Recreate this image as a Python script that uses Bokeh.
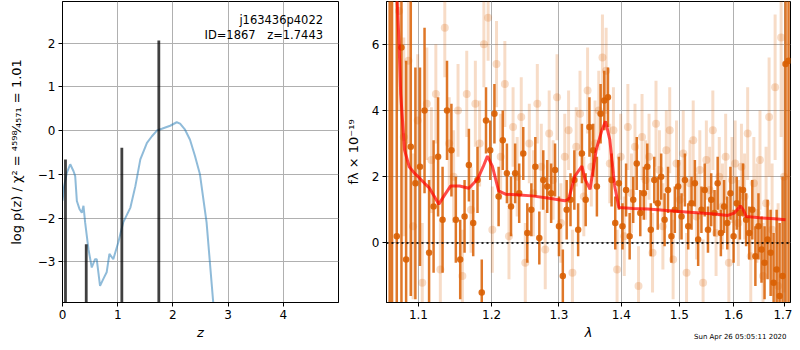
from bokeh.plotting import figure
from bokeh.layouts import row
from bokeh.models import Span, Label, Title, FixedTicker, PrintfTickFormatter, ColumnDataSource
from bokeh.embed import file_html
from bokeh.resources import INLINE

# ---------------- left panel data: p(z) ----------------
z_curve = [0.0, 0.03, 0.08, 0.14, 0.20, 0.23, 0.26, 0.31, 0.35, 0.38, 0.41, 0.47, 0.53, 0.59,
           0.62, 0.68, 0.74, 0.80, 0.85, 0.92, 1.01, 1.10, 1.23, 1.32, 1.41, 1.53, 1.62, 1.71,
           1.80, 1.95, 2.07, 2.13, 2.22, 2.31, 2.40, 2.49, 2.61, 2.73, 2.80]
logp_curve = [-1.6, -1.27, -0.96, -0.77, -0.93, -1.04, -1.61, -1.80, -1.88, -1.72, -2.1, -2.71,
              -3.13, -2.94, -2.94, -3.55, -3.39, -3.24, -2.82, -2.94, -2.56, -2.10, -1.76, -1.27,
              -0.66, -0.28, -0.13, 0.0, 0.04, 0.11, 0.19, 0.16, 0.02, -0.21, -0.58, -1.0, -2.1,
              -3.92, -5.0]
z_peaks = [0.054, 0.43, 1.075, 1.745]
logp_peaks = [-0.66, -2.60, -0.39, 2.06]
z_ticks = [0, 1, 2, 3, 4]
logp_ticks = [-3, -2, -1, 0, 1, 2]

# ---------------- right panel data: spectrum ----------------
dark_lam = [1.063, 1.066, 1.072, 1.078, 1.084, 1.090, 1.096, 1.102, 1.108, 1.114,
            1.120, 1.126, 1.132, 1.138, 1.144, 1.150, 1.156, 1.162, 1.168, 1.174,
            1.180, 1.186, 1.192, 1.198, 1.204, 1.210, 1.216, 1.222, 1.228, 1.234,
            1.240, 1.246, 1.252, 1.258, 1.264, 1.270, 1.276, 1.282, 1.288, 1.294,
            1.300, 1.306, 1.312, 1.318, 1.324, 1.330, 1.336, 1.342, 1.348, 1.354,
            1.360, 1.366, 1.372, 1.378, 1.384, 1.390, 1.396, 1.402, 1.408, 1.414,
            1.420, 1.426, 1.432, 1.438, 1.444, 1.450, 1.456, 1.462, 1.468, 1.474,
            1.480, 1.486, 1.492, 1.498, 1.504, 1.510, 1.516, 1.522, 1.528, 1.534,
            1.540, 1.546, 1.552, 1.558, 1.564, 1.570, 1.576, 1.582, 1.588, 1.594,
            1.600, 1.606, 1.612, 1.618, 1.624, 1.630, 1.636, 1.642, 1.648, 1.654,
            1.660, 1.666, 1.672, 1.678, 1.684, 1.690, 1.696, 1.702, 1.708]
dark_flux = [8.0, -2.5, 0.2, 5.9, -0.5, 2.9, 1.8, 2.3, 4.0, -0.3,
             1.1, 2.6, 0.7, 4.0, 2.8, 0.7, -0.5, 0.8, 2.35, 0.6,
             1.9, -1.5, 3.7, 2.8, 3.9, 1.4, 3.1, 2.1, 1.1, 2.1,
             1.5, 2.7, 0.3, 1.0, 2.3, 0.15, 1.9, 1.7, 1.5, 2.2,
             0.5, -1.0, 1.0, 1.3, 1.9, 0.4, 2.7, 1.3, 3.5, 2.8,
             1.7, 3.9, 4.3, 4.4, 1.9, 0.6, 1.8, 0.5, 1.6, 0.2,
             1.3, 2.4, 0.9, 1.5, 2.3, 0.4, 1.9, 1.2, 2.0, 0.7,
             1.6, 0.2, 1.0, 1.7, 0.8, 1.9, 0.5, 1.2, 1.8, 0.1,
             1.0, 1.6, 0.4, 1.3, 0.9, 1.8, 0.3, 1.1, 0.6, 1.5,
             0.2, 1.2, 0.9, 1.6, 0.7, 0.3, 1.0, -0.4, 0.5, -0.2,
             -0.6, 0.1, -0.3, -1.2, -0.8, -1.6, -1.0, 5.4, 5.5]
dark_err = [12, 12, 9, 8, 6, 4.5, 3.5, 3.0, 2.5, 2.2,
            2.0, 1.8, 1.6, 1.5, 1.4, 1.3, 1.2, 1.1, 1.1, 1.0,
            1.0, 1.0, 1.0, 0.9, 0.9, 0.9, 0.9, 0.9, 0.9, 0.9,
            0.9, 0.8, 0.9, 0.8, 0.9, 0.8, 0.9, 0.8, 0.9, 0.8,
            0.9, 0.8, 0.9, 0.8, 0.9, 0.8, 0.9, 0.8, 0.9, 0.8,
            0.9, 0.9, 0.9, 0.9, 0.8, 0.8, 0.8, 0.7, 0.8, 0.7,
            0.7, 0.8, 0.7, 0.8, 0.7, 0.8, 0.7, 0.8, 0.7, 0.8,
            0.7, 0.8, 0.7, 0.8, 0.7, 0.8, 0.7, 0.8, 0.7, 0.8,
            0.7, 0.8, 0.7, 0.8, 0.7, 0.8, 0.7, 0.8, 0.8, 0.8,
            0.8, 0.8, 0.8, 0.8, 0.8, 0.8, 0.9, 0.9, 1.0, 1.0,
            1.1, 1.2, 1.3, 1.5, 1.8, 2.2, 3.0, 10, 10]

light_lam = [1.075, 1.081, 1.087, 1.093, 1.099, 1.105, 1.111, 1.117, 1.123, 1.129,
             1.135, 1.141, 1.147, 1.153, 1.159, 1.165, 1.171, 1.177, 1.183, 1.189,
             1.195, 1.201, 1.207, 1.213, 1.219, 1.225, 1.231, 1.237, 1.243, 1.249,
             1.255, 1.261, 1.267, 1.273, 1.279, 1.285, 1.291, 1.297, 1.303, 1.309,
             1.315, 1.321, 1.327, 1.333, 1.339, 1.345, 1.351, 1.357, 1.363, 1.369,
             1.375, 1.381, 1.387, 1.393, 1.399, 1.405, 1.411, 1.417, 1.423, 1.429,
             1.435, 1.441, 1.447, 1.453, 1.459, 1.465, 1.471, 1.477, 1.483, 1.489,
             1.495, 1.501, 1.507, 1.513, 1.519, 1.525, 1.531, 1.537, 1.543, 1.549,
             1.555, 1.561, 1.567, 1.573, 1.579, 1.585, 1.591, 1.597, 1.603, 1.609,
             1.615, 1.621, 1.627, 1.633, 1.639, 1.645, 1.651, 1.657, 1.663, 1.669,
             1.675, 1.681, 1.687, 1.693, 1.699]
light_flux = [7.0, 3.2, 5.5, 0.5, 3.7, -1.2, 4.2, 2.5, 4.5, -0.8,
              6.5, 3.0, 2.0, 4.0, -1.0, 4.5, 1.0, 4.2, 3.0, 6.0,
              6.8, 0.4, 5.4, 2.6, 4.8, 0.2, 3.5, 2.0, 3.8, -0.6,
              3.0, 1.5, 4.2, 2.3, -0.2, 3.3, 1.9, 4.4, 0.6, 2.6,
              3.4, -0.9, 2.9, 3.9, 1.4, 4.6, 2.3, 3.0, 4.0, 5.6,
              5.2, 2.4, 3.4, -0.8, 2.6, 0.2, 3.5, 1.5, 2.9, -1.3,
              3.2, 1.9, 2.6, -0.3, 3.6, 2.2, 0.5, 2.8, 3.4, -0.5,
              2.4, 1.3, 2.7, -0.9, 1.8, 3.1, 0.8, 2.2, -1.2, 2.5,
              1.6, 3.4, 0.3, 2.0, 1.1, 2.6, -0.6, 1.9, 2.4, 0.6,
              2.3, 1.4, 3.3, -0.4, 1.8, 0.9, 2.5, -1.0, 1.2, 3.8,
              0.4, 4.7, -1.3, 6.2, 2.0]
light_err = [3.0, 3.0, 2.5, 2.2, 2.0, 1.8, 1.7, 1.6, 1.5, 1.5,
             1.5, 1.4, 1.4, 1.4, 1.4, 1.3, 1.3, 1.3, 1.3, 1.3,
             1.3, 1.3, 1.3, 1.3, 1.3, 1.3, 1.2, 1.2, 1.2, 1.2,
             1.2, 1.3, 1.2, 1.3, 1.2, 1.3, 1.2, 1.3, 1.2, 1.3,
             1.2, 1.3, 1.2, 1.3, 1.2, 1.3, 1.2, 1.3, 1.2, 1.3,
             1.3, 1.2, 1.3, 1.2, 1.3, 1.2, 1.3, 1.2, 1.3, 1.2,
             1.3, 1.2, 1.3, 1.2, 1.3, 1.2, 1.3, 1.2, 1.3, 1.2,
             1.3, 1.2, 1.3, 1.2, 1.3, 1.2, 1.3, 1.2, 1.3, 1.2,
             1.3, 1.2, 1.3, 1.2, 1.3, 1.3, 1.3, 1.3, 1.3, 1.3,
             1.3, 1.3, 1.4, 1.4, 1.4, 1.5, 1.5, 1.6, 1.7, 1.8,
             2.0, 2.2, 2.5, 3.0, 3.5]

model_lam = [1.072, 1.075, 1.077, 1.082, 1.088, 1.095, 1.101, 1.108, 1.114, 1.121, 1.127,
             1.134, 1.143, 1.155, 1.168, 1.180, 1.188, 1.194, 1.201, 1.210, 1.220, 1.240,
             1.259, 1.285, 1.309, 1.315, 1.325, 1.336, 1.341, 1.349, 1.359, 1.368, 1.374,
             1.381, 1.389, 1.396, 1.420, 1.445, 1.500, 1.564, 1.589, 1.601, 1.607, 1.613,
             1.619, 1.624, 1.650, 1.680, 1.702]
model_flux = [7.6, 6.0, 4.5, 2.8, 2.3, 2.1, 1.97, 1.8, 1.67, 1.4, 1.17,
              1.42, 1.72, 1.72, 1.65, 1.92, 2.3, 2.62, 2.32, 1.57, 1.47, 1.45,
              1.42, 1.35, 1.27, 1.32, 2.02, 2.32, 1.92, 1.62, 2.82, 3.4, 3.67,
              3.12, 1.72, 1.07, 1.04, 1.02, 0.95, 0.87, 0.83, 0.9, 1.0, 1.12,
              0.98, 0.80, 0.76, 0.73, 0.70]
lam_ticks = [1.1, 1.2, 1.3, 1.4, 1.5, 1.6, 1.7]
flux_ticks = [0, 2, 4, 6]

FONT = "DejaVu Sans"
ORANGE = "#d95f02"
BOTTOM = 38


def style(p):
    p.outline_line_color = "black"
    p.outline_line_width = 1
    p.outline_line_alpha = 1
    p.grid.grid_line_color = "#b0b0b0"
    p.grid.grid_line_width = 1
    p.background_fill_color = "white"
    p.border_fill_color = "white"
    for ax in p.axis:
        ax.major_tick_in = 0
        ax.major_tick_out = 4
        ax.minor_tick_line_color = None
        ax.axis_line_color = "black"
        ax.major_tick_line_color = "black"
        ax.major_label_text_font = FONT
        ax.major_label_text_font_size = "12px"
        ax.major_label_text_color = "black"
        ax.major_label_standoff = 3
        ax.axis_label_text_font = FONT
        ax.axis_label_text_font_size = "13px"
        ax.axis_label_text_color = "black"
        ax.axis_label_standoff = 3


# ---------------- left figure ----------------
p1 = figure(width=342, height=342, x_range=(0, 5), y_range=(-3.93, 2.95),
            output_backend="svg", toolbar_location=None,
            min_border_left=62, min_border_right=4, min_border_top=1, min_border_bottom=BOTTOM)
style(p1)
p1.xaxis.ticker = FixedTicker(ticks=z_ticks)
p1.yaxis.ticker = FixedTicker(ticks=logp_ticks)
p1.xaxis.axis_label = "z"
p1.xaxis.axis_label_text_font_style = "italic"
p1.yaxis.axis_label = "log p(z) / χ² = ⁴⁵⁹⁸⁄₄₅₇₁ = 1.01"
p1.yaxis.axis_label_text_font_style = "normal"
p1.yaxis.axis_label_standoff = 11

p1.line(z_curve, logp_curve, line_color="#1f77b4", line_alpha=0.5, line_width=2)
pk_src = ColumnDataSource(dict(x=z_peaks, top=logp_peaks, bottom=[-10] * len(z_peaks)))
p1.segment(x0="x", y0="bottom", x1="x", y1="top", source=pk_src,
           line_color="black", line_alpha=0.75, line_width=2.8)

p1.add_layout(Label(x=4.72, y=2.52, text="j163436p4022", text_align="right",
                    text_baseline="middle", text_font=FONT, text_font_size="11.5px",
                    text_color="black"))
p1.add_layout(Label(x=4.72, y=2.19, text="ID=1867\u2002\u2002z=1.7443", text_align="right",
                    text_baseline="middle", text_font=FONT, text_font_size="11.5px",
                    text_color="black"))

# ---------------- right figure ----------------
p2 = figure(width=450, height=342, x_axis_type="log", x_range=(1.059, 1.712),
            y_range=(-1.8, 7.29), output_backend="svg", toolbar_location=None,
            min_border_left=42, min_border_right=2, min_border_top=1, min_border_bottom=BOTTOM)
style(p2)
p2.xaxis.ticker = FixedTicker(ticks=lam_ticks)
p2.xaxis.formatter = PrintfTickFormatter(format="%.1f")
p2.yaxis.ticker = FixedTicker(ticks=flux_ticks)
p2.xaxis.axis_label = "λ"
p2.xaxis.axis_label_text_font_style = "italic"
p2.yaxis.axis_label = "fλ × 10⁻¹⁹"
p2.yaxis.axis_label_text_font_style = "normal"
p2.yaxis.axis_label_standoff = 8

light_src = ColumnDataSource(dict(x=light_lam, y=light_flux,
                                  lo=[f - e for f, e in zip(light_flux, light_err)],
                                  hi=[f + e for f, e in zip(light_flux, light_err)]))
dark_src = ColumnDataSource(dict(x=dark_lam, y=dark_flux,
                                 lo=[f - e for f, e in zip(dark_flux, dark_err)],
                                 hi=[f + e for f, e in zip(dark_flux, dark_err)]))

p2.segment(x0="x", y0="lo", x1="x", y1="hi", source=light_src,
           line_color=ORANGE, line_alpha=0.22, line_width=3)
p2.scatter(x="x", y="y", source=light_src, size=8, fill_color=ORANGE, fill_alpha=0.22,
           line_color=None)
p2.segment(x0="x", y0="lo", x1="x", y1="hi", source=dark_src,
           line_color=ORANGE, line_alpha=0.85, line_width=2.5)
p2.scatter(x="x", y="y", source=dark_src, size=6.5, fill_color=ORANGE, fill_alpha=0.9,
           line_color=None)
p2.line(model_lam, model_flux, line_color="red", line_alpha=0.7, line_width=3)

p2.add_layout(Span(location=0, dimension="width", line_color="black", line_alpha=0.85,
                   line_width=2, line_dash="2 3"))
p2.add_layout(Title(text="Sun Apr 26 05:05:11 2020", align="right", vertical_align="top",
                    text_font=FONT, text_font_size="7px", text_font_style="normal",
                    text_color="black", standoff=-19, offset=4), "below")

layout = row(p1, p2)
open("out.html", "w").write(file_html(layout, INLINE))
